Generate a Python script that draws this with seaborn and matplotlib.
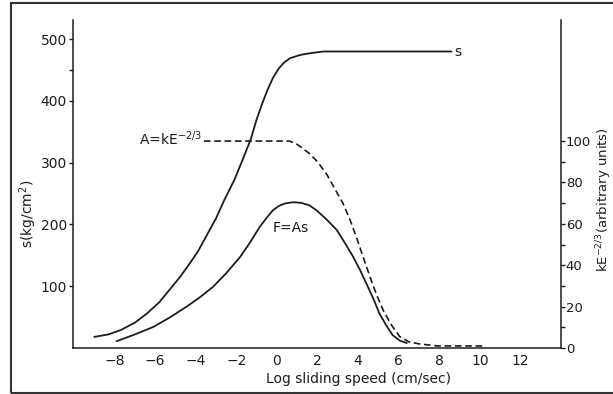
import matplotlib
matplotlib.use("Agg")
import matplotlib.pyplot as plt
import seaborn as sns
from matplotlib.patches import Rectangle
from matplotlib.ticker import FixedLocator

# Shear strength s (kg/cm^2) versus log sliding speed
s_x = [-9.0, -8.3, -7.7, -7.0, -6.4, -5.8, -5.3, -4.8, -4.4, -3.9, -3.5, -3.0, -2.6, -2.1, -1.7,
       -1.3, -1.0, -0.7, -0.45, -0.2, 0.1, 0.35, 0.64, 1.1, 1.4, 1.8, 2.3, 8.6]
s_y = [18, 22, 29, 41, 56, 74, 94, 114, 132, 156, 180, 210, 239, 272, 304,
       337, 370, 398, 419, 437, 453, 462, 469, 474, 476, 478, 480, 480]

# Friction force F = A s (plotted on the left scale)
f_x = [-7.9, -7.0, -6.1, -5.3, -4.45, -3.8, -3.15, -2.5, -1.8, -1.3, -0.85, -0.5, -0.2, 0.1,
       0.4, 0.8, 1.2, 1.6, 1.95, 2.45, 2.95, 3.35, 3.75, 4.1, 4.4, 4.75, 5.05, 5.4, 5.7, 6.05, 6.4]
f_y = [11, 22, 34, 49, 67, 82, 99, 121, 148, 172, 196, 211, 223, 230,
       234, 236, 235, 231, 223, 208, 191, 170, 148, 126, 105, 80, 56, 36, 21, 12, 8]

# Real area of contact A = kE^(-2/3), arbitrary units (right scale)
a_x = [-3.6, 0.6, 0.9, 1.2, 1.6, 2.0, 2.45, 2.85, 3.25, 3.6, 3.9, 4.25, 4.6, 4.9, 5.25,
       5.65, 6.05, 6.5, 7.0, 7.9, 10.3]
a_y = [100, 100, 99, 97, 94, 90, 84, 77, 70, 62, 54, 44, 34, 26, 18,
       11, 5.5, 3, 2, 1, 1]

x_ticks = [-8, -6, -4, -2, 0, 2, 4, 6, 8, 10, 12]
left_ticks = [100, 200, 300, 400, 500]
right_ticks = [0, 20, 40, 60, 80, 100]

sns.set_theme(style="white")
plt.rcParams["font.family"] = ["DejaVu Sans"]
ink = "#1c1c1c"
fs = 10

W, H = 613, 394
fig = plt.figure(figsize=(W / 100, H / 100), dpi=100)
ax = fig.add_axes([73 / W, 1 - 348 / H, (561 - 73) / W, (348 - 20) / H])
ax2 = ax.twinx()

sns.lineplot(x=s_x, y=s_y, ax=ax, color=ink, lw=1.3, sort=False)
sns.lineplot(x=f_x, y=f_y, ax=ax, color=ink, lw=1.3, sort=False)
sns.lineplot(x=a_x, y=a_y, ax=ax2, color=ink, lw=1.2, sort=False,
             linestyle=(0, (4, 2.2)))

ax.set_xlim(-10.05, 14.0)
ax.set_ylim(0, 531)
ax2.set_ylim(0, 158.5)

ax.set_xticks(x_ticks)
ax.set_yticks(left_ticks)
ax.yaxis.set_minor_locator(FixedLocator([450]))
ax2.set_yticks(right_ticks)
ax2.yaxis.set_minor_locator(FixedLocator([10, 30, 50, 70, 90]))

for a in (ax, ax2):
    a.set_xlabel("")
    a.set_ylabel("")
    a.spines["top"].set_visible(False)
    for sp in a.spines.values():
        sp.set_color(ink)
        sp.set_linewidth(1.1)
    a.tick_params(axis="both", which="both", direction="out", length=3,
                  width=1.0, color=ink, labelsize=fs, labelcolor=ink, pad=1.5)
ax.spines["right"].set_visible(False)
ax2.spines["left"].set_visible(False)
ax2.spines["bottom"].set_visible(False)
ax2.tick_params(axis="y", labelsize=9.5, pad=0.5)

# Axis titles
fig.text(28 / W, 1 - 214 / H, r"s(kg/cm$^2$)", rotation=90, ha="center", va="center",
         fontsize=fs, color=ink)
fig.text(604 / W, 1 - 200 / H, r"kE$^{-2/3}$(arbitrary units)", rotation=90,
         ha="center", va="center", fontsize=9.5, color=ink)
fig.text(359 / W, 1 - 379 / H, "Log sliding speed (cm/sec)", ha="center", va="center",
         fontsize=fs, color=ink)

# Curve labels
ax.text(s_x[-1] + 0.15, s_y[-1], "s", ha="left", va="center", fontsize=fs, color=ink)
ax2.text(a_x[0] - 0.1, a_y[0] + 1, r"A=kE$^{-2/3}$", ha="right", va="center",
         fontsize=fs, color=ink)
ax.text(-0.2, 195, "F=As", ha="left", va="center", fontsize=fs, color=ink)

# Outer frame (right edge runs off the canvas)
fig.patches.append(Rectangle((11 / W, 1 - 393 / H), (620 - 11) / W, (393 - 3) / H,
                             transform=fig.transFigure, fill=False,
                             edgecolor="#333333", lw=1.5, clip_on=False))

fig.savefig("out.png", dpi=100)
